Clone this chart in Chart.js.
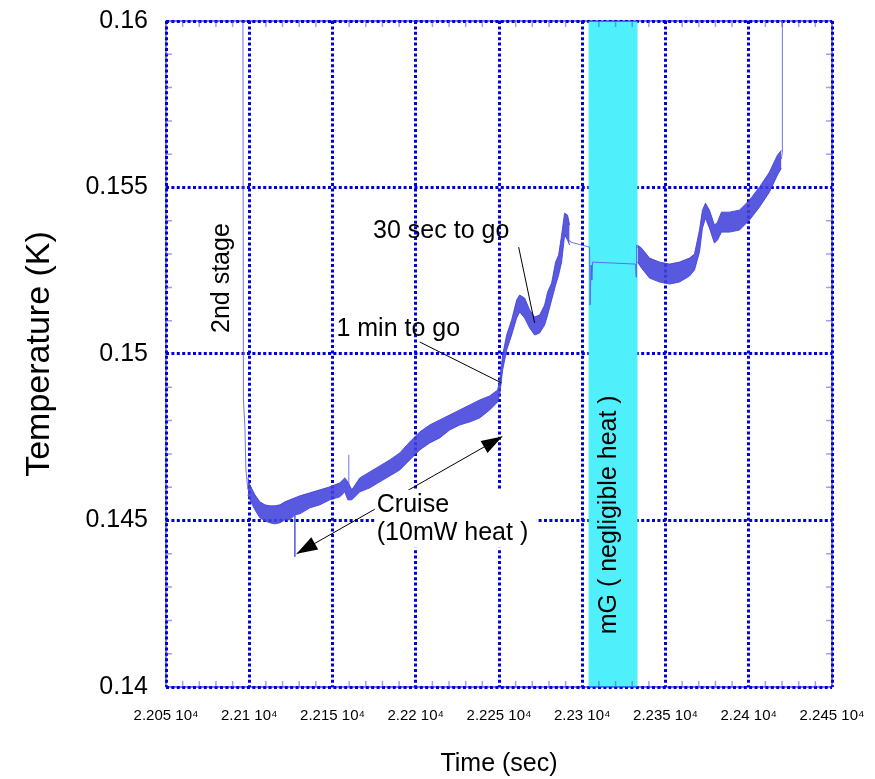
<!DOCTYPE html>
<html>
<head>
<meta charset="utf-8"/>
<style>
  body { margin: 0; padding: 0; background: #fff; }
  #wrap { width: 875px; height: 779px; }
</style>
</head>
<body>
<div id="wrap"><canvas id="chart" width="875" height="779"></canvas></div>
<script src="https://cdn.jsdelivr.net/npm/chart.js@4/dist/chart.umd.min.js"></script>
<script>
// axes
var xMin = 22050, xMax = 22450, xStep = 50;
var yMin = 0.14, yMax = 0.16, yStep = 0.005;

// 2nd stage drop (thin trace)
var dropT = [22096.2, 22096.5, 22097.4, 22098.0, 22099.2];
var dropK = [0.16, 0.14862, 0.14781, 0.14652, 0.14592];

// cruise + approach, noisy band read as upper / lower envelope
var band1T  = [22099.2, 22100.4, 22103.4, 22106.4, 22109.4, 22112.4, 22115.4, 22118.4, 22121.4, 22124.4,
               22127.4, 22130.4, 22136.4, 22142.4, 22148.4, 22154.4, 22157.4, 22159.2, 22161.6, 22166.4,
               22172.4, 22178.4, 22184.4, 22190.4, 22196.4, 22202.4, 22208.4, 22214.4, 22220.4, 22226.4,
               22232.4, 22238.4, 22244.4, 22249.2, 22250.4, 22252.2, 22254.6, 22257.6, 22260.6, 22262.4,
               22265.4, 22268.4, 22271.4, 22274.4, 22277.4, 22279.2, 22281.6, 22284.0, 22285.8, 22287.6,
               22289.4, 22291.2, 22292.4];
var band1Hi = [0.14628, 0.14607, 0.14577, 0.14556, 0.14547, 0.14544, 0.14544, 0.14547, 0.14556, 0.14562,
               0.14568, 0.14574, 0.14583, 0.14592, 0.14601, 0.14613, 0.14628, 0.14616, 0.14592, 0.14628,
               0.14646, 0.14664, 0.14682, 0.14703, 0.14736, 0.14766, 0.14787, 0.14802, 0.14817, 0.14832,
               0.14847, 0.14862, 0.14874, 0.14892, 0.14922, 0.14997, 0.15057, 0.15102, 0.15162, 0.15177,
               0.15168, 0.15132, 0.15111, 0.15117, 0.15147, 0.15186, 0.15213, 0.15276, 0.15297, 0.15357,
               0.15423, 0.15417, 0.15387];
var band1Lo = [0.14577, 0.14562, 0.14532, 0.14508, 0.14499, 0.14493, 0.14490, 0.14493, 0.14502, 0.14502,
               0.14517, 0.14520, 0.14538, 0.14547, 0.14562, 0.14571, 0.14586, 0.14562, 0.14562, 0.14586,
               0.14598, 0.14616, 0.14634, 0.14652, 0.14682, 0.14712, 0.14733, 0.14748, 0.14772, 0.14787,
               0.14796, 0.14808, 0.14832, 0.14856, 0.14877, 0.14952, 0.15012, 0.15057, 0.15108, 0.15126,
               0.15108, 0.15078, 0.15057, 0.15063, 0.15087, 0.15117, 0.15162, 0.15207, 0.15237, 0.15276,
               0.15357, 0.15342, 0.15327];

// single spikes in the cruise band
var spikeDownT = [22127.4, 22127.4];
var spikeDownK = [0.14520, 0.14391];
var spikeUpT = [22159.8, 22159.8];
var spikeUpK = [0.14586, 0.14697];

// mG period (thin trace)
var mgT = [22292.4, 22293.0, 22304.4, 22304.7, 22305.3, 22305.7, 22306.2, 22332.0, 22332.3, 22332.6, 22333.2];
var mgK = [0.15342, 0.15336, 0.15321, 0.15147, 0.15267, 0.15222, 0.15276, 0.15270, 0.15231, 0.15327, 0.15318];

// after mG, noisy band
var band2T  = [22333.2, 22335.6, 22340.4, 22346.4, 22352.4, 22358.4, 22364.4, 22367.4, 22370.4, 22372.2,
               22374.0, 22376.4, 22379.4, 22381.2, 22383.6, 22388.4, 22394.4, 22400.4, 22406.4, 22412.4,
               22417.2, 22419.6];
var band2Hi = [0.15327, 0.15318, 0.15288, 0.15276, 0.15270, 0.15276, 0.15288, 0.15300, 0.15372, 0.15432,
               0.15453, 0.15432, 0.15387, 0.15396, 0.15426, 0.15426, 0.15432, 0.15462, 0.15501, 0.15546,
               0.15597, 0.15612];
var band2Lo = [0.15276, 0.15258, 0.15228, 0.15216, 0.15210, 0.15216, 0.15234, 0.15252, 0.15306, 0.15378,
               0.15408, 0.15378, 0.15333, 0.15342, 0.15366, 0.15366, 0.15372, 0.15402, 0.15441, 0.15486,
               0.15537, 0.15558];

// final rise off scale
var endT = [22419.6, 22420.2, 22420.2];
var endK = [0.15585, 0.15606, 0.16];

// shaded microgravity interval
var mgBand = [22303.8, 22333.2];

var BLUE = '#0000d8';
var TRACE = 'rgba(66,66,220,0.88)';
var THIN = 'rgba(90,90,235,0.85)';
var FONT = '"Liberation Sans", Arial, Helvetica, sans-serif';

function pts(ts, ks) {
  return ts.map(function(t, i) { return {x: t, y: ks[i]}; });
}
function thin(ts, ks) {
  return {data: pts(ts, ks), borderColor: THIN, borderWidth: 1, pointRadius: 0, fill: false, tension: 0};
}

var datasets = [
  thin(dropT, dropK),
  thin(spikeDownT, spikeDownK),
  thin(spikeUpT, spikeUpK),
  thin(mgT, mgK),
  thin(endT, endK),
  {data: pts(band1T, band1Hi), borderColor: TRACE, borderWidth: 1, pointRadius: 0, fill: false},
  {data: pts(band1T, band1Lo), borderColor: TRACE, borderWidth: 1, pointRadius: 0, fill: '-1', backgroundColor: TRACE},
  {data: pts(band2T, band2Hi), borderColor: TRACE, borderWidth: 1, pointRadius: 0, fill: false},
  {data: pts(band2T, band2Lo), borderColor: TRACE, borderWidth: 1, pointRadius: 0, fill: '-1', backgroundColor: TRACE}
];

// notes, placed in data units
var notes = {
  stage: [22083.6, 0.15228],
  sec30: [22215.3, 0.15369], sec30Line: [[22261.8, 0.15321], [22271.4, 0.15093]],
  min1: [22189.5, 0.15075], min1Line: [[22202.4, 0.15036], [22251.6, 0.14913]],
  cruise: [22176.6, 0.14547], heat: [22176.6, 0.14463],
  cruiseBox: [[22175.4, 0.14592], [22272.6, 0.14418]],
  arrow: [[22128.4, 0.14400], [22252.0, 0.14752]],
  mg: [22316.4, 0.14517]
};

function head(ctx, from, to) {
  var a = Math.atan2(to[1] - from[1], to[0] - from[0]);
  var L = 21, W = 7;
  ctx.beginPath();
  ctx.moveTo(to[0], to[1]);
  ctx.lineTo(to[0] - L * Math.cos(a) + W * Math.sin(a), to[1] - L * Math.sin(a) - W * Math.cos(a));
  ctx.lineTo(to[0] - L * Math.cos(a) - W * Math.sin(a), to[1] - L * Math.sin(a) + W * Math.cos(a));
  ctx.closePath();
  ctx.fill();
}

var decor = {
  id: 'decor',
  beforeDatasetsDraw: function(chart) {
    var ctx = chart.ctx, a = chart.chartArea, x = chart.scales.x;
    var x0 = x.getPixelForValue(mgBand[0]), x1 = x.getPixelForValue(mgBand[1]);
    ctx.save();
    ctx.fillStyle = '#4ff0fc';
    ctx.fillRect(x0, a.top, x1 - x0, a.bottom - a.top);
    ctx.restore();
  },
  afterDraw: function(chart) {
    var ctx = chart.ctx, a = chart.chartArea, sx = chart.scales.x, sy = chart.scales.y;
    function P(p) { return [sx.getPixelForValue(p[0]), sy.getPixelForValue(p[1])]; }
    ctx.save();
    // frame
    ctx.strokeStyle = BLUE;
    ctx.lineWidth = 1;
    ctx.strokeRect(a.left, a.top, a.right - a.left, a.bottom - a.top);
    // minor ticks
    ctx.strokeStyle = 'rgba(80,80,235,0.55)';
    ctx.lineWidth = 1.5;
    ctx.beginPath();
    var v, p;
    for (v = xMin + 10; v < xMax; v += 10) {
      if (Math.abs((v - xMin) % xStep) < 1e-6) continue;
      p = sx.getPixelForValue(v);
      ctx.moveTo(p, a.top); ctx.lineTo(p, a.top + 6);
      ctx.moveTo(p, a.bottom); ctx.lineTo(p, a.bottom - 6);
    }
    for (var i = 1; i < 20; i++) {
      if (i % 5 === 0) continue;
      p = sy.getPixelForValue(yMin + i * 0.001);
      ctx.moveTo(a.left, p); ctx.lineTo(a.left + 6, p);
      ctx.moveTo(a.right, p); ctx.lineTo(a.right - 6, p);
    }
    ctx.stroke();

    ctx.fillStyle = '#000';
    ctx.strokeStyle = '#000';
    ctx.lineWidth = 1;
    ctx.font = '25px ' + FONT;
    ctx.textBaseline = 'middle';

    // leader lines
    [notes.sec30Line, notes.min1Line].forEach(function(l) {
      var s = P(l[0]), e = P(l[1]);
      ctx.beginPath(); ctx.moveTo(s[0], s[1]); ctx.lineTo(e[0], e[1]); ctx.stroke();
    });

    // cruise double arrow, broken by the label box
    var t1 = P(notes.arrow[0]), t2 = P(notes.arrow[1]);
    ctx.beginPath(); ctx.moveTo(t1[0], t1[1]); ctx.lineTo(t2[0], t2[1]); ctx.stroke();
    var b0 = P(notes.cruiseBox[0]), b1 = P(notes.cruiseBox[1]);
    ctx.fillStyle = '#fff';
    ctx.fillRect(b0[0], b0[1], b1[0] - b0[0], b1[1] - b0[1]);
    ctx.fillStyle = '#000';
    head(ctx, t2, t1);
    head(ctx, t1, t2);

    ctx.textAlign = 'left';
    p = P(notes.cruise); ctx.fillText('Cruise', p[0], p[1]);
    p = P(notes.heat); ctx.fillText('(10mW heat )', p[0], p[1]);

    ctx.textAlign = 'center';
    p = P(notes.sec30); ctx.fillText('30 sec to go', p[0], p[1]);
    p = P(notes.min1); ctx.fillText('1 min to go', p[0], p[1]);

    [[notes.stage, '2nd stage'], [notes.mg, 'mG ( negligible heat )']].forEach(function(n) {
      var q = P(n[0]);
      ctx.save();
      ctx.translate(q[0], q[1]);
      ctx.rotate(-Math.PI / 2);
      ctx.fillText(n[1], 0, 0);
      ctx.restore();
    });
    ctx.restore();
  }
};

Chart.defaults.font.family = FONT;
Chart.defaults.color = '#000';

new Chart(document.getElementById('chart'), {
  type: 'line',
  data: {datasets: datasets},
  options: {
    responsive: false,
    animation: false,
    events: [],
    layout: {padding: {top: 21, right: 43, bottom: 0, left: 0}},
    plugins: {legend: {display: false}, tooltip: {enabled: false}},
    scales: {
      x: {
        type: 'linear', min: xMin, max: xMax, z: 1,
        ticks: {
          stepSize: xStep, autoSkip: false, maxRotation: 0, padding: 0,
          font: {size: 15},
          callback: function(v) { return parseFloat((v / 1e4).toFixed(4)) + ' 10\u2074'; }
        },
        grid: {color: BLUE, lineWidth: 3, drawTicks: true, tickLength: 20, tickColor: 'rgba(0,0,0,0)'},
        border: {display: false, dash: [3, 2.4]},
        title: {display: true, text: 'Time (sec)', font: {size: 25}, padding: {top: 0, bottom: 0}},
        afterFit: function(s) { s.height = 92; }
      },
      y: {
        type: 'linear', min: yMin, max: yMax, z: 1,
        ticks: {
          stepSize: yStep, padding: 0, font: {size: 25},
          callback: function(v) { return String(parseFloat(v.toFixed(3))); }
        },
        grid: {color: BLUE, lineWidth: 3, drawTicks: true, tickLength: 18, tickColor: 'rgba(0,0,0,0)'},
        border: {display: false, dash: [3, 2.4]},
        title: {display: true, text: 'Temperature (K)', font: {size: 34}, padding: {top: 19, bottom: 0}},
        afterFit: function(s) { s.width = 166; }
      }
    }
  },
  plugins: [decor]
});
</script>
</body>
</html>
